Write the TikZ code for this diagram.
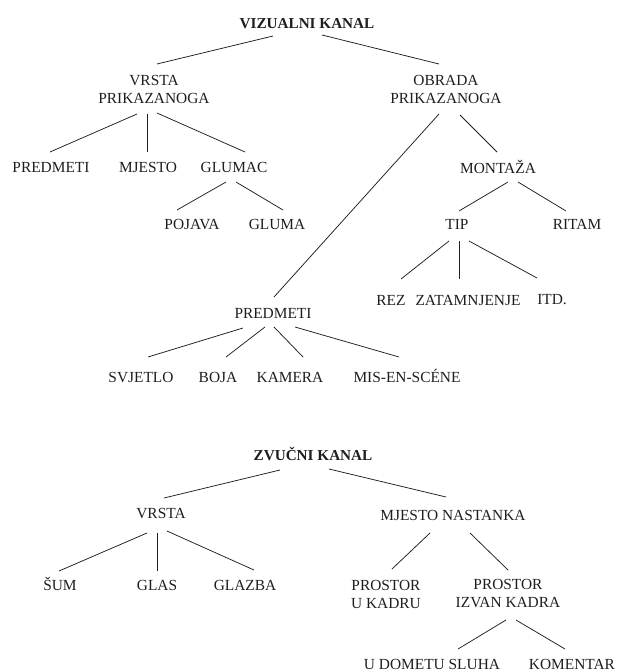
\documentclass[tikz,border=0pt]{standalone}
\usepackage{fontspec}
\setmainfont{Liberation Serif}
\definecolor{ink}{HTML}{1E1E1E}
\newcommand\linkit[6]{\draw[conn] ([shift={(#2,#3)}]#1.center) -- ([shift={(#5,#6)}]#4.center);}
\begin{document}
\begin{tikzpicture}[x=1pt,y=-1pt,
  lbl/.style={inner sep=0pt, text=ink, font=\fontsize{15.4}{18}\selectfont, text height=10pt, text depth=0pt},
  lbltwo/.style={inner sep=0pt, text=ink, font=\fontsize{15.4}{18}\selectfont, align=center},
  head/.style={lbl, font=\fontsize{15.2}{18}\selectfont\bfseries},
  conn/.style={draw=ink, line width=0.75pt}]
\useasboundingbox (0,0) rectangle (618,672);
% visual channel
\node[head] (vk) at (307,23) {VIZUALNI KANAL};
\node[lbltwo] (vp) at (154,89) {VRSTA\\PRIKAZANOGA};
\node[lbltwo] (op) at (446,89) {OBRADA\\PRIKAZANOGA};
\node[lbl] (pr1) at (51,167) {PREDMETI};
\node[lbl] (mj) at (148,167) {MJESTO};
\node[lbl] (gl) at (234,167) {GLUMAC};
\node[lbl] (po) at (192,224) {POJAVA};
\node[lbl] (gu) at (277,224) {GLUMA};
\node[lbl] (mo) at (498,168) {MONTAŽA};
\node[lbl] (tip) at (457,224) {TIP};
\node[lbl] (ri) at (577,224) {RITAM};
\node[lbl] (rez) at (391,300) {REZ};
\node[lbl] (zat) at (468,300) {ZATAMNJENJE};
\node[lbl] (itd) at (552,299) {ITD.};
\node[lbl] (pr2) at (273,313) {PREDMETI};
\node[lbl] (sv) at (141,377) {SVJETLO};
\node[lbl] (bo) at (218,377) {BOJA};
\node[lbl] (ka) at (290,377) {KAMERA};
\node[lbl] (mis) at (407,377) {MIS-EN-SCÉNE};
% sound channel
\node[head] (zk) at (313,455) {ZVUČNI KANAL};
\node[lbl] (vr) at (161,513) {VRSTA};
\node[lbl] (mn) at (453,515) {MJESTO NASTANKA};
\node[lbl] (sum) at (60,585) {ŠUM};
\node[lbl] (glas) at (157,585) {GLAS};
\node[lbl] (glz) at (245,585) {GLAZBA};
\node[lbltwo] (puk) at (386,594) {PROSTOR\\U KADRU};
\node[lbltwo] (pik) at (508,594) {PROSTOR\\IZVAN KADRA};
\node[lbl] (ud) at (432,664) {U DOMETU SLUHA};
\node[lbl] (kom) at (572,664) {KOMENTAR};
% connectors
\linkit{vk}{-34}{13}{vp}{3}{-25}
\linkit{vk}{15}{12}{op}{-7}{-25}
\linkit{vp}{-17}{25}{pr1}{-1}{-15}
\linkit{vp}{-7}{25}{mj}{-1}{-15}
\linkit{vp}{3}{24}{gl}{11}{-15}
\linkit{gl}{-8}{15}{po}{-15}{-14}
\linkit{gl}{2}{15}{gu}{6}{-14}
\linkit{op}{-7}{25}{pr2}{1}{-16}
\linkit{op}{14}{26}{mo}{-1}{-16}
\linkit{mo}{10}{14}{tip}{2}{-13}
\linkit{mo}{20}{14}{ri}{-11}{-13}
\linkit{tip}{-8}{17}{rez}{10}{-21}
\linkit{tip}{2}{17}{zat}{-9}{-21}
\linkit{tip}{12}{17}{itd}{-15}{-21}
\linkit{pr2}{-30}{15}{sv}{7}{-20}
\linkit{pr2}{-8}{14}{bo}{8}{-20}
\linkit{pr2}{1}{14}{ka}{13}{-20}
\linkit{pr2}{22}{14}{mis}{-8}{-20}
\linkit{zk}{-33}{15}{vr}{3}{-15}
\linkit{zk}{16}{14}{mn}{-7}{-18}
\linkit{vr}{-14}{20}{sum}{-1}{-14}
\linkit{vr}{-4}{20}{glas}{0}{-14}
\linkit{vr}{6}{18}{glz}{9}{-15}
\linkit{mn}{-23}{18}{puk}{6}{-25}
\linkit{mn}{17}{18}{pik}{0}{-24}
\linkit{pik}{-2}{26}{ud}{26}{-15}
\linkit{pik}{8}{26}{kom}{-7}{-15}
\end{tikzpicture}
\end{document}
